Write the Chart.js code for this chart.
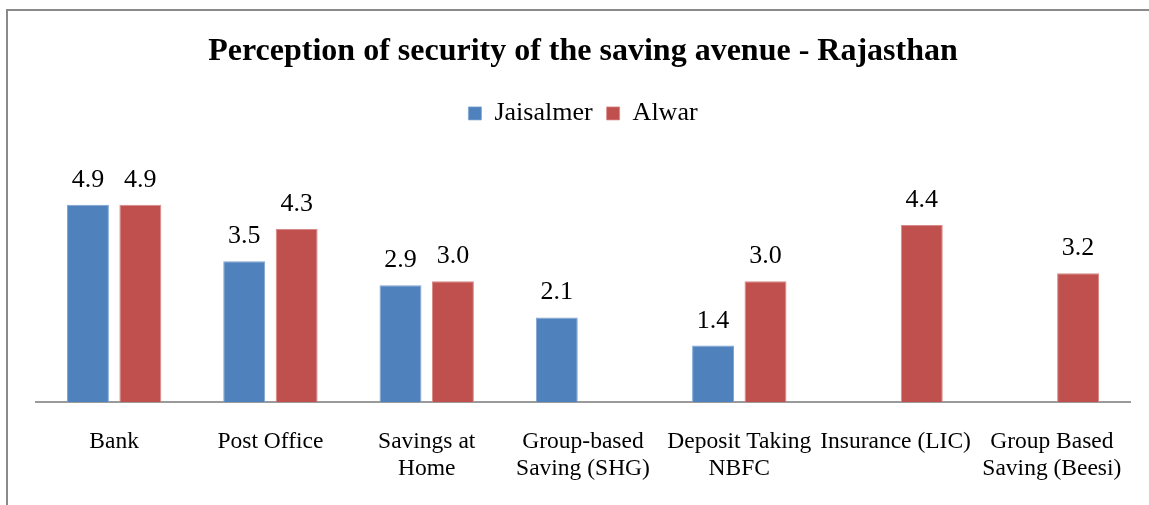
<!DOCTYPE html>
<html>
<head>
<meta charset="utf-8">
<title>Perception of security of the saving avenue - Rajasthan</title>
<script src="https://cdn.jsdelivr.net/npm/chart.js@4.4.1/dist/chart.umd.min.js"></script>
<style>
    html, body { margin: 0; padding: 0; background: #ffffff; overflow: hidden; }
    #wrap { position: relative; width: 1149px; height: 505px; }
    #frame {
        position: absolute; left: 6px; top: 9px; width: 2000px; height: 1000px;
        border: 2px solid #8a8a8a; pointer-events: none;
    }
</style>
</head>
<body>
<div id="wrap">
    <canvas id="savingChart" width="1149" height="505"></canvas>
    <div id="frame"></div>
</div>
<script>
// DATA
// ====
const categories = [
    'Bank',
    'Post Office',
    ['Savings at', 'Home'],
    ['Group-based', 'Saving (SHG)'],
    ['Deposit Taking', 'NBFC'],
    'Insurance (LIC)',
    ['Group Based', 'Saving (Beesi)'],
];
const jaisalmerValues = [4.9, 3.5, 2.9, 2.1, 1.4, null, null];
const alwarValues = [4.9, 4.3, 3.0, null, 3.0, 4.4, 3.2];
const seriesNames = ['Jaisalmer', 'Alwar'];

const SERIF = "'Liberation Serif', 'Times New Roman', serif";

// Value labels above each bar
const barValueLabels = {
    id: 'barValueLabels',
    afterDatasetsDraw(chart) {
        const ctx = chart.ctx;
        ctx.save();
        ctx.font = `26px ${SERIF}`;
        ctx.fillStyle = '#000000';
        ctx.textAlign = 'center';
        ctx.textBaseline = 'alphabetic';
        chart.data.datasets.forEach((ds, i) => {
            const meta = chart.getDatasetMeta(i);
            meta.data.forEach((bar, j) => {
                const v = ds.data[j];
                if (v === null || v === undefined) return;
                ctx.fillText(v.toFixed(1), bar.x, bar.y - 18);
            });
        });
        ctx.restore();
    },
};

const ctx = document.getElementById('savingChart').getContext('2d');
new Chart(ctx, {
    type: 'bar',
    data: {
        labels: categories,
        datasets: [
            {
                label: seriesNames[0],
                data: jaisalmerValues,
                backgroundColor: '#4f81bd',
                borderColor: '#7fa3d0',
                borderWidth: { top: 1, left: 1, right: 1, bottom: 0 },
            },
            {
                label: seriesNames[1],
                data: alwarValues,
                backgroundColor: '#c0504d',
                borderColor: '#d88a88',
                borderWidth: { top: 1, left: 1, right: 1, bottom: 0 },
            },
        ],
    },
    options: {
        responsive: false,
        animation: false,
        datasets: {
            bar: {
                categoryPercentage: 0.671,
                barPercentage: 0.8,
            },
        },
        layout: {
            padding: { left: 36, right: 19, top: 15, bottom: -3 },
        },
        plugins: {
            title: {
                display: true,
                text: 'Perception of security of the saving avenue - Rajasthan',
                color: '#000000',
                font: { family: SERIF, size: 32, weight: 'bold' },
                padding: { top: 18, bottom: 15 },
            },
            legend: {
                display: true,
                position: 'top',
                labels: {
                    color: '#000000',
                    boxWidth: 13,
                    boxHeight: 13,
                    padding: 14,
                    font: { family: SERIF, size: 26 },
                },
            },
            tooltip: { enabled: false },
        },
        scales: {
            x: {
                grid: { display: false, drawTicks: false },
                border: { display: true, color: '#9a9a9a', width: 2 },
                ticks: {
                    color: '#000000',
                    padding: 26,
                    maxRotation: 0,
                    autoSkip: false,
                    font: { family: SERIF, size: 23.5, lineHeight: 1.15 },
                },
            },
            y: {
                display: false,
                min: 0,
                max: 6.6,
            },
        },
    },
    plugins: [barValueLabels],
});
</script>
</body>
</html>
